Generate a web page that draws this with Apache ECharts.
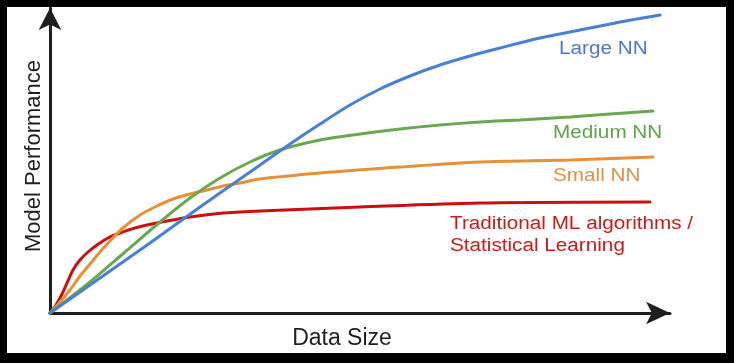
<!DOCTYPE html>
<html>
<head>
<meta charset="utf-8">
<script src="https://cdn.jsdelivr.net/npm/echarts@6/dist/echarts.min.js"></script>
<style>
html,body{margin:0;padding:0;background:#fff;}
#chart{width:734px;height:363px;}
</style>
</head>
<body>
<div id="chart"></div>
<script>
// Data size (x) and model performance (y), arbitrary units
var largeNN_x = [0,50,100,150,200,240,270,300,330,360,390,420,450,490,530,570,610];
var largeNN_y = [0,35,70,106,141,169,189,208,224,237,248,257,265,275,283,291,298];

var mediumNN_x = [0,40,75,110,140,170,200,230,270,310,350,390,430,470,520,560,603];
var mediumNN_y = [0,31,61,91,115,135,151,163,173,179,184,188,191,193,196,199,202];

var smallNN_x = [0,10,20,30,40,50,60,73,90,107,123,140,157,173,190,210,270,350,430,520,603];
var smallNN_y = [0,11,23,37,49,61,72,85,98,107,114,119,123,127,130,134,140,146,151,153,156];

var tradML_x = [0,6,12,17,23,30,38,47,58,70,85,107,140,173,210,310,430,600];
var tradML_y = [0,8,19,30,43,53,61,68,75,80,85,90,96,100,102,106,110,111];

var seriesNames = ['Large NN','Medium NN','Small NN','Traditional ML algorithms /\nStatistical Learning'];
var xAxisTitle = 'Data Size';
var yAxisTitle = 'Model Performance';

function pairs(xs, ys){ return xs.map(function(x,i){ return [x, ys[i]]; }); }

var colors = ['#4a7fd6','#6aa84f','#e69138','#cc0e0e'];
var textColors = ['#4f78c2','#63a04d','#e0904a','#cc1a1a'];

var chart = echarts.init(document.getElementById('chart'), null, {renderer:'canvas'});

function mkSeries(name, data, color){
  return {
    name: name, type: 'line', data: data, showSymbol: false, symbol: 'none',
    smooth: 0.3,
    lineStyle: {width: 3, color: color, cap: 'round'},
    clip: false, silent: true, animation: false
  };
}

var axisLineStyle = {color: '#1e1e1e', width: 3};

var option = {
  animation: false,
  grid: {left: 50, top: 8, right: 64, bottom: 50, containLabel: false},
  xAxis: {
    type: 'value', min: 0, max: 620,
    axisLine: {show: true, onZero: false, lineStyle: axisLineStyle,
      symbol: ['none','arrow'], symbolSize: [17, 24]},
    axisTick: {show: false}, axisLabel: {show: false}, splitLine: {show: false}
  },
  yAxis: {
    type: 'value', min: 0, max: 305,
    axisLine: {show: true, onZero: false, lineStyle: axisLineStyle,
      symbol: ['none','arrow'], symbolSize: [17, 22]},
    axisTick: {show: false}, axisLabel: {show: false}, splitLine: {show: false}
  },
  series: [
    mkSeries(seriesNames[3], pairs(tradML_x, tradML_y), colors[3]),
    mkSeries(seriesNames[2], pairs(smallNN_x, smallNN_y), colors[2]),
    mkSeries(seriesNames[1], pairs(mediumNN_x, mediumNN_y), colors[1]),
    mkSeries(seriesNames[0], pairs(largeNN_x, largeNN_y), colors[0])
  ],
  graphic: [
    // frame
    {type:'rect', shape:{x:0,y:0,width:734,height:7}, style:{fill:'#000'}, z:100},
    {type:'rect', shape:{x:0,y:353,width:734,height:10}, style:{fill:'#000'}, z:100},
    {type:'rect', shape:{x:0,y:0,width:7,height:363}, style:{fill:'#000'}, z:100},
    {type:'rect', shape:{x:726,y:0,width:8,height:363}, style:{fill:'#000'}, z:100},
    // axis titles
    {type:'text', x:342, y:339, style:{text: xAxisTitle, font:'23px "Liberation Sans", Arial, sans-serif', fill:'#1e1e1e', align:'center', verticalAlign:'middle'}, z:50},
    {type:'text', x:34, y:156, rotation: Math.PI/2, style:{text: yAxisTitle, font:'22px "Liberation Sans", Arial, sans-serif', fill:'#1e1e1e', align:'center', verticalAlign:'middle'}, z:50},
    // series labels
    {type:'text', x:559, y:49, scaleX:1.15, style:{text: seriesNames[0], font:'18px "Liberation Sans", Arial, sans-serif', fill:textColors[0], align:'left', verticalAlign:'middle'}, z:50},
    {type:'text', x:553, y:133, scaleX:1.15, style:{text: seriesNames[1], font:'18px "Liberation Sans", Arial, sans-serif', fill:textColors[1], align:'left', verticalAlign:'middle'}, z:50},
    {type:'text', x:553, y:176, scaleX:1.15, style:{text: seriesNames[2], font:'18px "Liberation Sans", Arial, sans-serif', fill:textColors[2], align:'left', verticalAlign:'middle'}, z:50},
    {type:'text', x:450, y:224, scaleX:1.15, style:{text: seriesNames[3].split('\n')[0], font:'18px "Liberation Sans", Arial, sans-serif', fill:textColors[3], align:'left', verticalAlign:'middle'}, z:50},
    {type:'text', x:450, y:246, scaleX:1.15, style:{text: seriesNames[3].split('\n')[1], font:'18px "Liberation Sans", Arial, sans-serif', fill:textColors[3], align:'left', verticalAlign:'middle'}, z:50}
  ]
};
chart.setOption(option);
</script>
</body>
</html>
